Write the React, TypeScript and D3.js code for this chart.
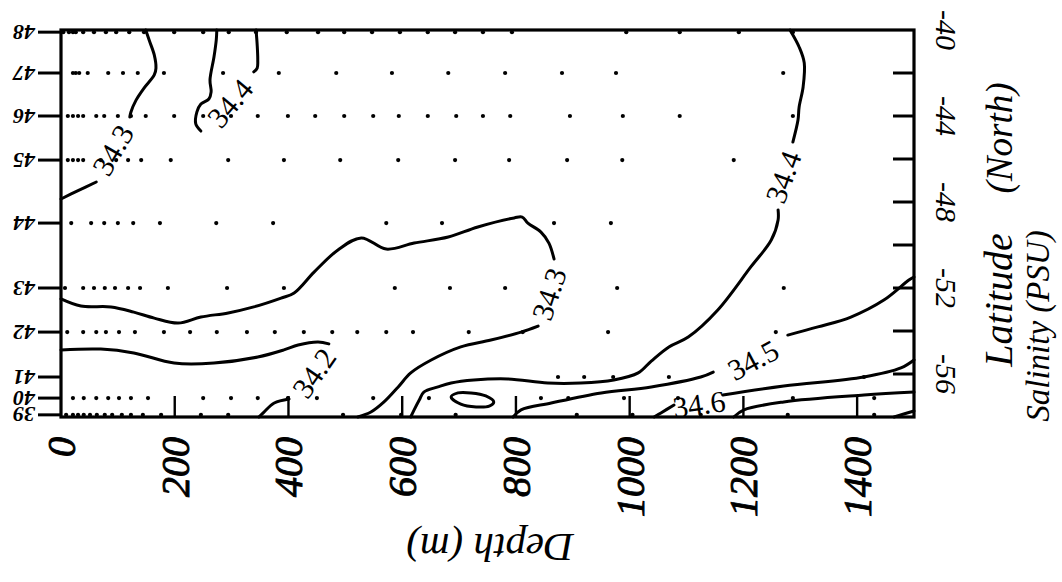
import React from "react";
import * as d3 from "d3";

// ---------- data ----------
const depthTicks = [0, 200, 400, 600, 800, 1000, 1200, 1400];
const latTickLabels = [-40, -44, -48, -52, -56];
const latMinorTicks = [-42, -44, -46, -48, -50, -52, -54, -56];

const stations = ["48", "47", "46", "45", "44", "43", "42", "41", "40", "39"];
const stationLat = [-40.1, -42.0, -44.0, -46.05, -48.98, -52.0, -54.05, -56.14, -57.12, -57.9];

const depths48 = [4, 14, 21, 26, 39, 58, 79, 97, 120, 146, 199, 250, 295, 343, 397, 452, 498, 547, 596, 645, 693, 742, 793, 994, 1088, 1192, 1287];
const depths47 = [21, 26, 32, 47, 83, 109, 135, 181, 285, 383, 484, 582, 681, 781, 881, 976, 1270];
const depths46 = [12, 21, 30, 39, 62, 76, 100, 123, 149, 199, 250, 299, 346, 399, 447, 498, 549, 594, 645, 695, 742, 790, 895, 988, 1088, 1287];
const depths45 = [12, 21, 30, 39, 70, 97, 118, 141, 193, 294, 392, 491, 593, 693, 788, 890, 987, 1183];
const depths44 = [18, 53, 76, 100, 127, 174, 273, 373, 572, 670, 867, 967];
const depths43 = [7, 39, 58, 77, 95, 118, 139, 188, 292, 392, 587, 684, 781, 978, 1271];
const depths42 = [11, 39, 62, 79, 102, 130, 181, 227, 274, 327, 376, 427, 477, 521, 572, 619, 717, 812, 962, 1257];
const depths41 = [874, 920, 971, 1069, 1412];
const depths40 = [21, 40, 62, 83, 102, 123, 153, 250, 299, 346, 399, 450, 549, 647, 844, 892, 990, 1085, 1287, 1430];
const depths39 = [9, 21, 30, 40, 51, 63, 77, 90, 107, 123, 144, 176, 246, 294, 496, 598, 694, 907, 1005, 1125, 1278, 1430];
const sampleDepths = [depths48, depths47, depths46, depths45, depths44, depths43, depths42, depths41, depths40, depths39];

// isohalines: [depth (m), latitude]
const iso343North = [[149, -40.0], [155, -40.47], [164, -41.16], [167, -41.77], [164, -42.09], [146, -42.7], [132, -43.26], [123, -43.81], [121, -44.05]];
const iso343NorthTail = [[62, -47.07], [30, -47.47], [0, -47.86]];
const iso344NorthEast = [[343, -40.0], [345, -40.7], [346, -41.4], [345, -41.77], [339, -41.95]];
const iso344NorthWest = [[246, -44.7], [237, -44.37], [239, -43.81], [246, -43.44], [260, -43.21], [264, -42.88], [262, -42.33], [269, -41.26], [273, -40.47], [274, -40.0]];
const iso343Mid = [[0, -52.51], [35, -52.84], [88, -52.88], [128, -53.12], [164, -53.4], [206, -53.63], [246, -53.35], [294, -53.16], [339, -52.88], [387, -52.47], [410, -52.23], [445, -51.26], [487, -50.23], [528, -49.67], [572, -50.19], [621, -49.91], [681, -49.63], [733, -49.16], [797, -48.74], [811, -48.7], [821, -48.98], [844, -49.4], [858, -49.91], [867, -50.65]];
const iso343MidTail = [[839, -53.77], [809, -54.05], [756, -54.42], [703, -54.74], [651, -55.35], [615, -55.95], [593, -56.6], [568, -57.3], [545, -57.77], [522, -58.0]];
const iso342 = [[0, -54.88], [70, -54.84], [128, -55.02], [199, -55.49], [269, -55.49], [346, -55.21], [392, -54.88], [417, -54.65], [452, -54.51], [471, -54.6]];
const iso342Tail = [[401, -57.16], [375, -57.35], [357, -57.77], [348, -58.0]];
const iso344Deep = [[615, -58.0], [621, -57.67], [630, -57.21], [638, -56.84], [663, -56.6], [686, -56.42], [726, -56.28], [786, -56.23], [856, -56.42], [914, -56.42], [972, -56.28], [1015, -55.95], [1038, -55.4], [1069, -54.74], [1103, -54.28], [1155, -53.02], [1213, -51.02], [1249, -49.77], [1261, -48.84], [1261, -48.37]];
const iso344DeepTop = [[1287, -45.21], [1296, -44.19], [1298, -43.58], [1305, -42.65], [1307, -41.53], [1298, -40.79], [1284, -40.09], [1282, -40.0]];
const isoLens = [[686, -57.07], [698, -56.88], [721, -56.88], [747, -57.02], [761, -57.3], [753, -57.49], [730, -57.53], [703, -57.4]];
const iso345 = [[795, -58.0], [809, -57.67], [862, -57.35], [950, -56.88], [1038, -56.6], [1125, -56.14], [1147, -55.91]];
const iso345Tail = [[1278, -54.19], [1331, -53.81], [1389, -53.35], [1447, -52.56], [1491, -51.63], [1500, -51.49]];
const iso346 = [[1043, -58.0], [1055, -57.81], [1078, -57.44]];
const iso346Tail = [[1164, -56.98], [1271, -56.56], [1412, -56.14], [1477, -55.72], [1500, -55.35]];
const isoDeep = [[1183, -58.0], [1201, -57.67], [1271, -57.3], [1412, -56.98], [1500, -56.84]];
const isoCorner = [[1465, -58.0], [1482, -57.86], [1500, -57.72]];

const openLines = [iso343North, iso343NorthTail, iso344NorthEast, iso344NorthWest, iso343Mid, iso343MidTail, iso342, iso342Tail, iso344Deep, iso344DeepTop, iso345, iso345Tail, iso346, iso346Tail, isoDeep, isoCorner];
const closedLines = [isoLens];

const labelText = ["34.3", "34.4", "34.3", "34.4", "34.2", "34.5", "34.6"];
const labelDepth = [91, 297, 858, 1270, 445, 1217, 1122];
const labelLat = [-45.58, -43.4, -52.28, -46.84, -55.95, -55.35, -57.4];
const labelAngle = [-60, -50, -72, -70, -55, -28, -8];

// ---------- chart ----------
const W = 1062;
const H = 582;
const L = 61, R = 914, T = 30, B = 417;
const FONT = "'Liberation Serif', 'Times New Roman', Tinos, 'Nimbus Roman', serif";

export default function App() {
  const x = d3.scaleLinear().domain([0, 1500]).range([L, R]);
  const y = d3.scaleLinear().domain([-40, -58]).range([T, B]);
  const line = d3.line<number[]>().x((d) => x(d[0])).y((d) => y(d[1])).curve(d3.curveCatmullRom.alpha(0.5));
  const closed = d3.line<number[]>().x((d) => x(d[0])).y((d) => y(d[1])).curve(d3.curveCatmullRomClosed.alpha(0.5));

  return (
    <svg width={W} height={H} style={{ position: "absolute", left: 0, top: 0, background: "#fff", fontFamily: FONT }}>
      <rect x={0} y={0} width={W} height={H} fill="#fff" />
      {/* sample dots */}
      {sampleDepths.map((ds, i) =>
        ds.map((d, j) => <circle key={`p${i}-${j}`} cx={x(d)} cy={y(stationLat[i])} r={2.1} fill="#000" />)
      )}
      {/* contours */}
      <g fill="none" stroke="#000" strokeWidth={3} strokeLinejoin="round" strokeLinecap="round">
        {openLines.map((pts, i) => <path key={`c${i}`} d={line(pts) || ""} />)}
        {closedLines.map((pts, i) => <path key={`z${i}`} d={closed(pts) || ""} />)}
      </g>
      {/* contour labels */}
      {labelText.map((t, i) => (
        <text key={`l${i}`} transform={`translate(${x(labelDepth[i])},${y(labelLat[i])}) rotate(${labelAngle[i]})`} textAnchor="middle" dominantBaseline="central" fontSize={30} fill="#000" style={{ fontFamily: FONT }}>
          {t}
        </text>
      ))}
      {/* bottom inward ticks */}
      {depthTicks.filter((d) => d > 0).map((d) => (
        <line key={`bt${d}`} x1={x(d)} x2={x(d)} y1={B} y2={B - 21} stroke="#000" strokeWidth={2.4} />
      ))}
      {/* right ticks */}
      {latMinorTicks.map((l) => (
        <line key={`rt${l}`} x1={R - 21} x2={R} y1={y(l)} y2={y(l)} stroke="#000" strokeWidth={3} />
      ))}
      {/* left station ticks */}
      {stationLat.map((l, i) => (
        <line key={`lt${i}`} x1={38} x2={L} y1={y(l)} y2={y(l)} stroke="#000" strokeWidth={3} />
      ))}
      {/* frame */}
      <rect x={L} y={T} width={R - L} height={B - T} fill="none" stroke="#000" strokeWidth={3.2} />
      {/* station labels (upside down) */}
      {stations.map((s, i) => (
        <text key={`sl${i}`} transform={`translate(35,${y(stationLat[i])}) rotate(180)`} textAnchor="start" dominantBaseline="central" fontSize={22} fontStyle="italic" fontWeight="bold" fill="#000" style={{ fontFamily: FONT }}>
          {s}
        </text>
      ))}
      {/* depth labels */}
      {depthTicks.map((d) => (
        <text key={`dl${d}`} transform={`translate(${x(d) + 14},437) rotate(-90)`} textAnchor="end" fontSize={40} fontStyle="italic" fill="#000" stroke="#000" strokeWidth={0.9} style={{ fontFamily: FONT }}>
          {d}
        </text>
      ))}
      {/* latitude labels */}
      {latTickLabels.map((l) => (
        <text key={`ll${l}`} transform={`translate(936,${y(l)}) rotate(90)`} textAnchor="middle" fontSize={30} fontStyle="italic" fill="#000" style={{ fontFamily: FONT }}>
          {l}
        </text>
      ))}
      <text transform="translate(1012,300) rotate(-90)" textAnchor="middle" fontSize={40} fontStyle="italic" fill="#000" style={{ fontFamily: FONT }}>Latitude</text>
      <text transform="translate(1012,138) rotate(-90)" textAnchor="middle" fontSize={37} fontStyle="italic" fill="#000" style={{ fontFamily: FONT }}>(North)</text>
      <text transform="translate(1049,326) rotate(-90)" textAnchor="middle" fontSize={33} fontStyle="italic" fill="#000" style={{ fontFamily: FONT }}>Salinity (PSU)</text>
      <text transform="translate(490,548) rotate(180)" textAnchor="middle" dominantBaseline="central" fontSize={41} fontStyle="italic" fill="#000" style={{ fontFamily: FONT }}>Depth (m)</text>
    </svg>
  );
}
